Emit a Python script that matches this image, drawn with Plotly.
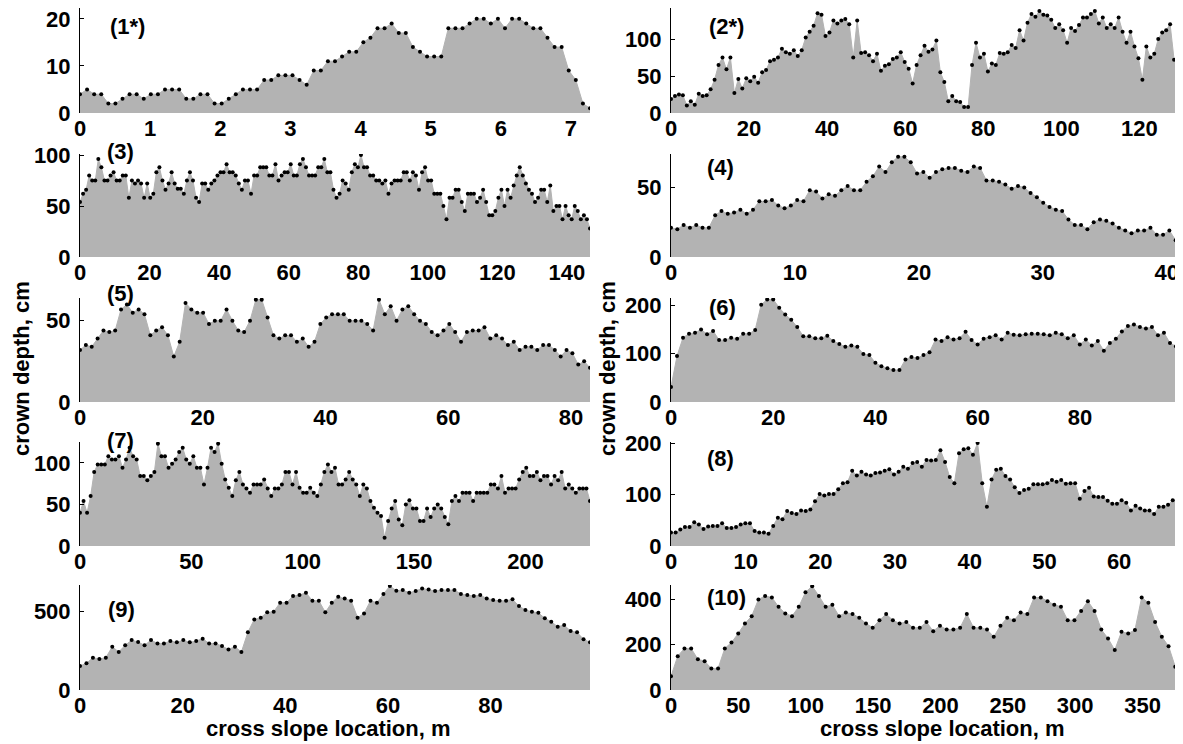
import numpy as np
import plotly.graph_objects as go

# crown depth profiles, cm; points evenly spaced along the cross slope
p1 = [4, 5, 4, 4, 2, 2, 3, 4, 4, 3, 4, 4, 5, 5, 5, 3, 3, 4, 4, 2, 2, 3, 4, 5, 5, 5, 7, 7, 8, 8,
      8, 7, 6, 9, 9, 11, 11, 12, 13, 13, 15, 16, 18, 18, 19, 17, 17, 14, 13, 12, 12, 12, 18, 18, 18,
      19, 20, 20, 19, 20, 18, 20, 20, 19, 18, 18, 16, 14, 14, 9, 7, 2, 1]
p2 = [19, 23, 25, 24, 10, 16, 11, 26, 23, 24, 32, 45, 65, 75, 59, 75, 27, 46, 33, 47, 43, 49, 41,
      55, 58, 70, 72, 75, 87, 82, 80, 85, 77, 85, 102, 110, 118, 135, 133, 104, 109, 125, 121, 125,
      127, 120, 75, 125, 81, 82, 78, 70, 80, 57, 64, 66, 73, 75, 82, 69, 60, 40, 65, 78, 91, 83, 86,
      98, 55, 42, 16, 23, 16, 15, 8, 8, 65, 95, 75, 80, 56, 67, 65, 81, 80, 82, 92, 88, 112, 98,
      122, 134, 130, 138, 133, 132, 126, 115, 120, 112, 95, 115, 111, 119, 129, 129, 134, 138, 121,
      129, 115, 120, 115, 129, 110, 95, 110, 90, 74, 45, 90, 75, 80, 100, 109, 112, 120, 72, 58, 20]
p3 = [54, 62, 66, 80, 75, 75, 96, 88, 75, 75, 80, 83, 75, 75, 80, 80,
      58, 75, 72, 75, 72, 58, 72, 58, 62, 83, 88, 75, 66, 72, 83, 72, 67, 67, 62, 75,
      83, 75, 58, 54, 72, 72, 66, 72, 75, 80, 83, 83, 91, 83, 83, 80, 72, 66, 75, 75,
      62, 80, 80, 88, 88, 88, 80, 80, 91, 75, 80, 83, 83, 91, 80, 80, 91, 96, 88, 80,
      80, 80, 88, 88, 96, 83, 83, 66, 58, 62, 75, 72, 66, 83, 91, 88, 100, 88, 88, 80,
      80, 75, 75, 72, 75, 62, 72, 75, 75, 75, 83, 83, 75, 83, 80, 66, 83, 88, 75, 75,
      62, 62, 62, 50, 37, 58, 58, 66, 66, 54, 45, 62, 62, 62, 54, 58, 66, 54, 41, 41,
      45, 58, 66, 50, 66, 58, 70, 80, 88, 80, 72, 66, 62, 54, 58, 66, 66, 54, 70, 45,
      50, 50, 37, 50, 41, 37, 50, 45, 37, 41, 37, 28]
p4 = [21, 20, 23, 21, 23, 21, 21, 30, 33, 31, 32, 34, 31, 34, 40, 40, 41, 37, 35, 37, 41, 40,
      48, 47, 42, 45, 44, 48, 51, 48, 48, 54, 58, 65, 61, 68, 72, 72, 68, 60, 61, 57, 61, 63, 64,
      64, 62, 61, 65, 64, 55, 55, 54, 52, 49, 51, 50, 46, 43, 39, 36, 34, 33, 27, 23, 23, 20, 25,
      27, 26, 24, 21, 19, 17, 19, 19, 21, 16, 16, 19, 12, 7]
p5 = [32, 35, 34, 39, 44, 43, 44, 57, 60, 55, 57, 54, 41, 44, 46, 41, 28, 37, 61, 57, 55, 55,
      48, 50, 50, 57, 50, 44, 43, 50, 63, 63, 52, 41, 39, 41, 41, 37, 39, 34, 37, 48, 52, 54, 54,
      54, 50, 50, 50, 48, 44, 63, 54, 59, 50, 57, 59, 54, 50, 48, 43, 41, 44, 48, 43, 37, 43, 44,
      44, 46, 39, 41, 39, 35, 37, 32, 34, 34, 32, 35, 35, 32, 28, 32, 30, 23, 25, 21]
p6 = [31, 95, 133, 141, 143, 150, 140, 147, 128, 128, 133, 131, 141, 141, 149, 201, 212, 212,
      195, 181, 170, 155, 136, 136, 132, 132, 137, 126, 120, 114, 117, 114, 99, 97, 81, 74, 70,
      66, 66, 88, 93, 91, 97, 103, 129, 126, 134, 129, 132, 145, 128, 119, 131, 134, 138, 129,
      143, 139, 138, 140, 141, 141, 140, 138, 143, 140, 132, 138, 119, 129, 117, 126, 106, 122,
      131, 146, 157, 160, 155, 152, 155, 138, 143, 122, 115, 66]
p7 = [40, 54, 40, 60, 89, 98, 98, 98, 108, 104, 104, 108,
      94, 104, 118, 108, 104, 84, 84, 79, 84, 89,
      123, 108, 108, 94, 99, 104, 113, 118, 104, 99,
      108, 94, 94, 74, 94, 118, 113, 123, 99, 80,
      70, 60, 79, 89, 74, 69, 64, 74, 74, 74,
      80, 69, 60, 69, 69, 74, 89, 89, 74, 89,
      70, 64, 64, 70, 64, 60, 74, 89, 98, 89,
      94, 74, 74, 80, 89, 80, 74, 60, 74, 69,
      54, 46, 40, 36, 10, 30, 45, 54, 32, 25,
      50, 55, 45, 45, 30, 30, 45, 35, 45, 50,
      45, 35, 26, 54, 60, 54, 64, 64, 64, 54,
      64, 64, 64, 64, 74, 74, 69, 84, 64, 69,
      69, 69, 80, 89, 94, 84, 84, 89, 79, 84,
      84, 74, 84, 79, 89, 69, 74, 69, 64, 69,
      69, 69, 54]
p8 = [26, 26, 32, 37, 37, 46, 42, 33, 38, 39, 39, 44, 35, 35, 37, 42, 44, 44, 29, 26,
      26, 24, 39, 55, 52, 68, 64, 62, 69, 68, 71, 87, 101, 98, 101, 101, 110, 122, 124, 146,
      137, 144, 139, 137, 142, 143, 146, 149, 139, 144, 154, 150, 161, 163, 154, 167, 166, 167,
      186, 163, 134, 122, 180, 188, 190, 177, 200, 122, 76, 129, 148, 150, 136, 129, 114, 103,
      109, 111, 120, 120, 120, 122, 128, 125, 128, 121, 122, 122, 92, 107, 113, 96, 95, 95, 88,
      82, 82, 89, 84, 69, 78, 73, 69, 69, 62, 76, 76, 80, 89, 90, 65]
p9 = [152, 169, 205, 196, 205, 274, 241, 283, 316, 304, 283, 316, 295, 295, 310, 302, 316, 302,
      310, 325, 295, 295, 278, 257, 274, 241, 365, 447, 458, 492, 496, 553, 553, 595, 601, 616,
      565, 565, 492, 553, 591, 580, 565, 458, 485, 565, 553, 608, 658, 629, 633, 616, 627, 643,
      637, 627, 633, 633, 633, 608, 601, 595, 601, 580, 570, 565, 565, 574, 532, 506, 496, 489,
      454, 432, 401, 411, 373, 365, 321, 302]
p10 = [61, 149, 183, 183, 135, 127, 95, 95, 183, 209, 249, 293, 325, 398, 414, 407, 366, 337,
       325, 366, 430, 457, 414, 366, 375, 325, 341, 334, 318, 293, 274, 307, 334, 307, 293, 299,
       274, 274, 299, 259, 283, 266, 266, 274, 334, 274, 274, 266, 234, 283, 318, 307, 341, 334,
       407, 407, 391, 375, 366, 307, 307, 348, 391, 348, 266, 227, 176, 256, 249, 264, 407, 384,
       299, 234, 193, 102, 47]

series = [p1, p2, p3, p4, p5, p6, p7, p8, p9, p10]
labels = ["(1*)", "(2*)", "(3)", "(4)", "(5)", "(6)", "(7)", "(8)", "(9)", "(10)"]
spacing = [0.101, 1.015, 0.878, 0.509, 0.955, 1.176, 1.59, 0.622, 1.258, 4.99]
ytop = [22.3, 142, 101, 74, 64, 215, 125, 202, 665, 462]
xticks = [list(range(0, 8)), list(range(0, 121, 20)), list(range(0, 141, 20)), list(range(0, 41, 10)),
          list(range(0, 81, 20)), list(range(0, 81, 20)), list(range(0, 201, 50)), list(range(0, 61, 10)),
          list(range(0, 81, 20)), list(range(0, 351, 50))]
yticks = [[0, 10, 20], [0, 50, 100], [0, 50, 100], [0, 50], [0, 50],
          [0, 100, 200], [0, 50, 100], [0, 100, 200], [0, 500], [0, 200, 400]]

# the page body adds an 8px margin, so the figure is drawn 8px smaller
OFF = 8
W, H = 1183 - OFF, 744 - OFF


def fx(px):
    return (px - OFF) / W


def fy(py):
    return 1 - (py - OFF) / H


col_px = [(80, 590), (671, 1182)]
row_px = [(8, 113), (154, 257), (298, 402), (442, 546), (585, 690)]
label_px = [(127, 26), (727, 26), (120, 151), (720, 168), (120, 293),
            (722, 308), (120, 440), (720, 458), (121, 609), (727, 597)]

FONT = "Liberation Sans, Arial, sans-serif"
TXT = dict(size=22, color="black", family=FONT, weight="bold")
fig = go.Figure()
layout = {}
for i, vals in enumerate(series):
    n = i + 1
    row, col = divmod(i, 2)
    x = np.arange(len(vals)) * spacing[i]
    fig.add_trace(go.Scatter(
        x=x, y=vals, mode="lines+markers", fill="tozeroy",
        fillcolor="#b3b3b3", line=dict(color="#b3b3b3", width=1),
        marker=dict(color="black", size=4),
        xaxis="x%d" % n, yaxis="y%d" % n, showlegend=False, hoverinfo="x+y"))
    cx0, cx1 = col_px[col]
    ry0, ry1 = row_px[row]
    layout["xaxis%d" % n] = dict(
        domain=[fx(cx0), min(fx(cx1), 1)], anchor="y%d" % n, range=[0, x[-1]],
        tickvals=xticks[i], showline=False, showgrid=False, zeroline=False,
        ticks="", automargin=False, ticklabeloverflow="allow", tickfont=TXT)
    layout["yaxis%d" % n] = dict(
        domain=[fy(ry1), fy(ry0)], anchor="x%d" % n, range=[0, ytop[i]],
        tickvals=yticks[i], showline=True, linecolor="black", linewidth=1,
        ticks="inside", ticklen=4, tickcolor="black", showgrid=False, zeroline=False,
        automargin=False, ticklabelstandoff=4, ticklabeloverflow="allow", tickfont=TXT)

annotations = []
common = dict(xref="paper", yref="paper", showarrow=False, xanchor="center",
              yanchor="middle", font=TXT)
for i, (px, py) in enumerate(label_px):
    annotations.append(dict(text=labels[i], x=fx(px), y=fy(py), **common))
for px, py in [(21, 369), (607, 369)]:
    annotations.append(dict(text="crown depth, cm", x=fx(px), y=fy(py), textangle=-90, **common))
for px, py in [(328, 728), (942, 728)]:
    annotations.append(dict(text="cross slope location, m", x=fx(px), y=fy(py), **common))

fig.update_layout(**layout)
fig.update_layout(width=W, height=H, margin=dict(l=0, r=0, t=0, b=0),
                  plot_bgcolor="white", paper_bgcolor="white",
                  annotations=annotations, font=dict(family=FONT))
fig.write_html("out.html")
